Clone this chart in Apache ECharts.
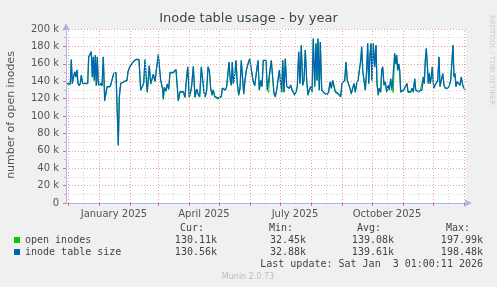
<!DOCTYPE html>
<html><head><meta charset="utf-8">
<script src="https://cdn.jsdelivr.net/npm/echarts@6/dist/echarts.min.js"></script>
<style>html,body{margin:0;padding:0;background:#f0f0f0}#c{width:497px;height:287px}</style>
</head><body><div id="c"></div>
<script>
// time axis: days since graph start (2024-11-29 01:00:11 UTC), 400-day span
const startDate = Date.UTC(2024, 10, 29, 1, 0, 11);
const spanDays = 400;

const days = [
  1, 2.7, 4.3, 5.3, 6.3, 7.7, 8.7, 10, 11, 12,
  13.3, 14.3, 15.3, 16.7, 18, 19.3, 20.3, 21.7, 22.7, 24.3,
  25.3, 26.3, 27.3, 28.3, 29.3, 30.3, 31.3, 32.3, 33.3, 34.7,
  36, 37.3, 38.7, 41, 42.7, 44.3, 46, 47.7, 50, 51.7,
  52.3, 53.3, 54.7, 56, 57.7, 59.3, 61, 62, 63.7, 65,
  67, 70, 73, 74.7, 76, 77.7, 79, 80.7, 81.3, 83.3,
  84.7, 86.7, 87.3, 89, 92.3, 94.7, 96.7, 97.3, 98.3, 100,
  101.3, 102.7, 104, 107.3, 109, 110, 112.3, 114, 115.7, 117.3,
  119, 120, 121.7, 123.3, 124.7, 125.7, 127.3, 129, 130.7, 132.3,
  133.7, 135.3, 136.7, 138, 139.3, 140.7, 142, 143.3, 144.7, 146,
  147.3, 148.7, 150.3, 152, 153.7, 155.3, 156.3, 158, 159.3, 160.7,
  162, 163, 164.3, 165.3, 166.3, 167.3, 168.7, 170, 171.3, 172.7,
  174, 175.3, 176.3, 177.7, 179, 180.3, 182, 183.7, 184.7, 185.3,
  187, 188.7, 190.3, 192, 193.3, 194.7, 196, 197.3, 198.7, 200,
  201.3, 202.7, 204, 205.3, 206.7, 208, 209.3, 210.7, 212, 213.3,
  214.7, 215.7, 216.7, 218, 219.3, 220.7, 222, 223.3, 224.7, 226,
  227.3, 228.7, 230, 231.3, 232.7, 234, 235.3, 236.7, 238, 239.3,
  240.7, 242, 243.3, 244.7, 246, 247.3, 248.7, 250, 251, 252,
  253.3, 254.3, 255.7, 257.3, 258.7, 260, 261.3, 262.7, 264, 265.3,
  266.7, 268, 269.3, 270.7, 272, 273.3, 274.7, 276, 277.3, 278.7,
  280, 281.3, 282.7, 284, 285.3, 286.7, 288, 289.3, 290.7, 292,
  293.3, 294.7, 295.7, 296.7, 298, 299.3, 300.7, 301.7, 302.7, 304,
  305, 306, 307.3, 308.7, 310, 311, 312.3, 313.3, 314.7, 315.7,
  316.7, 318, 319.3, 320.7, 322, 323.3, 324.7, 326, 327.3, 328.7,
  329.7, 330.7, 331.7, 332.7, 333.7, 334.7, 336.3, 337.7, 339.3, 341,
  342, 343.3, 344.7, 346, 347.3, 348.7, 349.7, 351, 352.7, 354.3,
  356, 357.3, 358.3, 359.3, 360.3, 361.3, 362.3, 363.3, 364.3, 365.3,
  366.3, 367.7, 369, 370.3, 371.7, 373, 374, 375.3, 376.7, 378,
  379.3, 380.7, 382, 383.3, 384.7, 386, 387, 388, 389, 390,
  391.3, 392.7, 394, 395.3, 396.7, 398, 399.3
];

// inode table size (thousands)
const tableSize = [
  137.5, 137.5, 136.7, 165, 137.5, 135.6, 151, 145, 153, 137.5,
  135, 137.5, 147, 137.5, 139.5, 137.5, 139.5, 137.5, 168, 170,
  174, 145, 168, 141, 170, 135, 168, 137.5, 135, 137.5,
  135, 168, 118, 133.6, 135, 134, 133.6, 149, 150, 150,
  66.6, 122, 137.5, 139.4, 139.4, 139.4, 141, 151, 156.6, 158.6,
  162, 165, 165, 130, 133, 138, 165, 135, 128, 158,
  137, 135, 148, 140, 171, 141, 131, 120, 133, 129,
  137, 131, 150, 150, 151, 153.6, 118, 128, 126, 128,
  122, 137, 156.6, 122, 128, 135, 157, 122, 131, 125,
  122.5, 156.6, 158.6, 128, 122.5, 130, 156.6, 152.7, 132, 124.5,
  130, 122.5, 122.5, 120.5, 120.5, 122.5, 132, 134, 130, 134,
  132, 162, 141, 135.6, 162, 137.5, 147, 164, 137.5, 124.5,
  132, 164, 166, 126, 141, 152.7, 160, 166, 166, 164,
  141, 135, 135, 164, 130, 141, 134, 164, 164, 164,
  130, 128, 152.7, 164, 166, 126, 122.5, 130, 132, 152.7,
  151, 128, 164, 128, 166, 134, 132, 132, 135.6, 130,
  128, 124.5, 128, 134, 174, 137.5, 181.5, 135.6, 141, 176,
  141, 124.5, 130, 134, 128, 189, 134, 183.5, 141, 189,
  130, 185, 130, 128, 126, 126, 124.5, 128, 139.4, 132,
  141, 139, 128, 126, 126, 124.5, 122.5, 137.5, 139.4, 141,
  162, 141, 139.4, 132, 126, 132, 137.5, 128, 137.5, 141,
  139.4, 164, 179.6, 152.7, 141, 130, 152.7, 183.5, 137.5, 170,
  183.5, 141, 183.5, 156.6, 181.5, 137.5, 124.5, 132, 128, 152.7,
  156.6, 135.6, 139.4, 128, 135.6, 130, 143, 130, 128, 172,
  160, 170, 152.7, 160, 152.7, 128, 128, 130, 132, 137.5,
  128, 128, 128, 132, 128, 143, 130, 130, 128, 130,
  130, 145, 137.5, 164, 177.7, 160, 137.5, 149, 137.5, 145,
  156.6, 132, 135.6, 135.6, 141, 168, 134, 141, 149, 135.6,
  132, 132, 132, 135.6, 141, 141, 181.5, 145, 149, 134,
  139.4, 141, 135.6, 145, 135.6, 132, 130.5
];

// open inodes (thousands)
const openInodes = [
  137, 137, 136.2, 164.5, 137, 135, 150.5, 144.5, 152.5, 137,
  134.5, 137, 146.5, 137, 139, 137, 139, 137, 167.5, 169.5,
  173.5, 144.5, 167.5, 140.5, 169.5, 134.5, 167.5, 137, 134.5, 137,
  134.5, 167.5, 117, 133, 134.5, 133.5, 133, 148.5, 149.5, 149.5,
  66, 121, 137, 139, 139, 139, 140.5, 150.5, 156, 158,
  161.5, 164.5, 164.5, 129.5, 132.5, 137.5, 164.5, 134.5, 127, 157.5,
  136.5, 134.5, 147.5, 139.5, 170.5, 140.5, 130.5, 119, 132.5, 128,
  136.5, 130.5, 149.5, 149.5, 150.5, 153, 117, 127, 125, 127,
  121, 136.5, 156, 121, 127, 134.5, 156.5, 121, 130.5, 124,
  121.5, 156, 158, 127, 121.5, 129.5, 156, 152, 131.5, 123.5,
  129.5, 121.5, 121.5, 119.5, 119.5, 121.5, 131.5, 133.5, 129.5, 133.5,
  131.5, 161.5, 140.5, 135, 161.5, 137, 146.5, 163.5, 137, 123.5,
  131.5, 163.5, 165.5, 125, 140.5, 152, 159.5, 165.5, 165.5, 163.5,
  140.5, 134.5, 134.5, 163.5, 129.5, 140.5, 133.5, 163.5, 163.5, 163.5,
  129.5, 127, 152, 163.5, 165.5, 125, 121.5, 129.5, 131.5, 152,
  150.5, 127, 163.5, 127, 165.5, 133.5, 131.5, 131.5, 135, 129.5,
  127, 123.5, 127, 133.5, 173.5, 137, 181, 135, 140.5, 175.5,
  140.5, 123.5, 129.5, 133.5, 127, 188.5, 133.5, 183, 140.5, 188.5,
  129.5, 184.5, 129.5, 127, 125, 125, 123.5, 127, 139, 131.5,
  140.5, 138.5, 127, 125, 125, 123.5, 121.5, 137, 139, 140.5,
  161.5, 140.5, 139, 131.5, 125, 131.5, 137, 127, 137, 140.5,
  139, 163.5, 179, 152, 140.5, 129.5, 152, 183, 137, 169.5,
  183, 140.5, 183, 156, 181, 137, 123.5, 131.5, 127, 152,
  156, 135, 139, 127, 135, 129.5, 142.5, 129.5, 127, 171.5,
  159.5, 169.5, 152, 159.5, 152, 127, 127, 129.5, 131.5, 137,
  127, 127, 127, 131.5, 127, 142.5, 129.5, 129.5, 127, 129.5,
  129.5, 144.5, 137, 163.5, 177, 159.5, 137, 148.5, 137, 144.5,
  156, 131.5, 135, 135, 140.5, 167.5, 133.5, 140.5, 148.5, 135,
  131.5, 131.5, 131.5, 135, 140.5, 140.5, 181, 144.5, 148.5, 133.5,
  139, 140.5, 135, 144.5, 135, 131.5, 130.1
];

const seriesNames = ['open inodes', 'inode table size'];
const seriesColors = ['#00cc00', '#0066b3'];
const statHeaders = ['Cur:', 'Min:', 'Avg:', 'Max:'];
const statsOpen = ['130.11k', '32.45k', '139.08k', '197.99k'];
const statsTable = ['130.56k', '32.88k', '139.61k', '198.48k'];
const lastUpdate = 'Last update: Sat Jan  3 01:00:11 2026';
const yMax = 200;
const yStep = 20;
const quarterLabels = ['January 2025', 'April 2025', 'July 2025', 'October 2025'];

function dayOf(y, m, d) { return (Date.UTC(y, m, d) - startDate) / 864e5; }
const monthStarts = [];
const monthMids = [];
for (let i = 0; i < 14; i++) {
  const ms = dayOf(2024, 11 + i, 1);
  const mm = dayOf(2024, 11 + i, 16);
  if (ms > 0 && ms < spanDays) monthStarts.push(ms);
  if (mm > 0 && mm < spanDays) monthMids.push(mm);
}
const labelPos = [dayOf(2025, 0, 16), dayOf(2025, 3, 16), dayOf(2025, 6, 16), dayOf(2025, 9, 16)];

const chart = echarts.init(document.getElementById('c'), null, {renderer: 'canvas'});
const FONT = 'DejaVu Sans';
const MONO = 'DejaVu Sans Mono';
const gfx = [];
const colR = [204, 293, 381, 470];
const valR = [217, 306, 394, 483];
statHeaders.forEach((t, i) => gfx.push({type: 'text', x: colR[i], y: 228, style: {text: t, fill: '#444', font: '10px ' + MONO, align: 'right', verticalAlign: 'middle'}}));
statsOpen.forEach((t, i) => gfx.push({type: 'text', x: valR[i], y: 240, style: {text: t, fill: '#444', font: '10px ' + MONO, align: 'right', verticalAlign: 'middle'}}));
statsTable.forEach((t, i) => gfx.push({type: 'text', x: valR[i], y: 252, style: {text: t, fill: '#444', font: '10px ' + MONO, align: 'right', verticalAlign: 'middle'}}));
gfx.push({type: 'text', x: 483, y: 264, style: {text: lastUpdate, fill: '#444', font: '10px ' + MONO, align: 'right', verticalAlign: 'middle'}});
gfx.push({type: 'text', x: 248, y: 277, style: {text: 'Munin 2.0.73', fill: '#bbb', font: '8px ' + FONT, align: 'center', verticalAlign: 'middle'}});
gfx.push({type: 'text', x: 492, y: 15, rotation: -Math.PI / 2, style: {text: 'RRDTOOL / TOBI OETIKER', fill: '#ccc', font: '7px ' + FONT, align: 'left', verticalAlign: 'middle'}});
gfx.push({type: 'text', x: 11, y: 115, rotation: Math.PI / 2, style: {text: 'number of open inodes', fill: '#555', font: '11px ' + FONT, align: 'center', verticalAlign: 'middle'}});

const vLines = monthStarts.map(d => ({xAxis: d, lineStyle: {color: '#eaa0a0', type: [1, 2], width: 1}}))
  .concat(monthMids.map(d => ({xAxis: d, lineStyle: {color: '#d4d4d4', type: [1, 2], width: 1}})));

chart.setOption({
  animation: false,
  backgroundColor: '#f0f0f0',
  title: {text: 'Inode table usage - by year', left: 'center', top: 12, padding: 0,
    textStyle: {fontFamily: FONT, fontSize: 13, fontWeight: 'normal', color: '#444'}},
  legend: {orient: 'vertical', left: 14, top: 234, padding: 0, itemGap: 0, icon: 'rect',
    itemWidth: 6, itemHeight: 6, selectedMode: false,
    textStyle: {fontFamily: MONO, fontSize: 10, color: '#444', lineHeight: 12},
    data: seriesNames},
  graphic: gfx,
  grid: {left: 66, right: 31, top: 29, bottom: 84, show: true, backgroundColor: '#ffffff', borderWidth: 0, containLabel: false},
  xAxis: {type: 'value', min: 0, max: spanDays,
    axisLine: {show: true, lineStyle: {color: '#b0b0f0', width: 1}, symbol: ['none', 'arrow'], symbolSize: [6, 8], symbolOffset: [0, 6]},
    axisTick: {show: true, customValues: monthStarts, length: 3, inside: false, lineStyle: {color: '#e07070'}},
    axisLabel: {show: true, customValues: labelPos, margin: 6, fontFamily: FONT, fontSize: 10, color: '#555',
      formatter: (v) => { const i = labelPos.findIndex(p => Math.abs(p - v) < 0.01); return i >= 0 ? quarterLabels[i] : ''; }},
    splitLine: {show: false}},
  yAxis: {type: 'value', min: 0, max: yMax, interval: yStep,
    axisLine: {show: true, lineStyle: {color: '#b0b0f0', width: 1}, symbol: ['none', 'arrow'], symbolSize: [6, 8], symbolOffset: [0, 6]},
    axisTick: {show: true, length: 3, lineStyle: {color: '#e07070'}},
    minorTick: {show: true, splitNumber: 2, length: 2, lineStyle: {color: '#bbb'}},
    axisLabel: {margin: 7, fontFamily: FONT, fontSize: 10, color: '#555', formatter: v => v === 0 ? '0' : v + ' k'},
    splitLine: {show: true, lineStyle: {color: '#eaa0a0', type: [1, 2], width: 1}},
    minorSplitLine: {show: true, lineStyle: {color: '#d4d4d4', type: [1, 2], width: 1}}},
  series: [
    {type: 'line', name: '_grid', data: [], silent: true, z: 1,
      markLine: {silent: true, symbol: 'none', label: {show: false}, animation: false, data: vLines}},
    {type: 'line', name: seriesNames[0], color: seriesColors[0], z: 3, showSymbol: false, symbol: 'none',
      lineStyle: {width: 1, color: seriesColors[0]}, data: days.map((d, i) => [d, openInodes[i]])},
    {type: 'line', name: seriesNames[1], color: seriesColors[1], z: 4, showSymbol: false, symbol: 'none',
      lineStyle: {width: 1.3, color: seriesColors[1]}, data: days.map((d, i) => [d, tableSize[i]])}
  ]
});
</script></body></html>
